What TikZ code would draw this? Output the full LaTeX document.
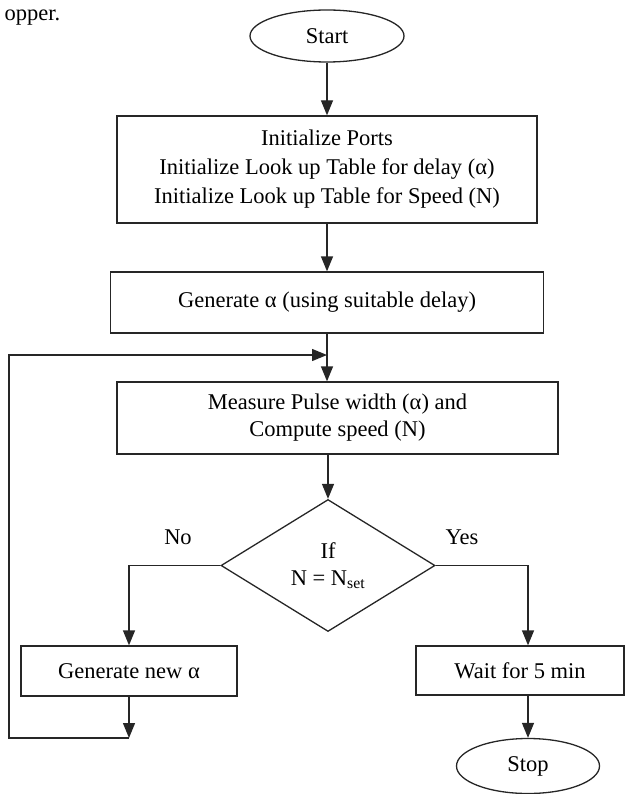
\documentclass[tikz,border=0pt]{standalone}
\usepackage{fontspec}
\setmainfont{Liberation Serif}
\usetikzlibrary{arrows.meta,shapes.geometric}

\begin{document}
\begin{tikzpicture}[x=1pt, y=-1pt, line width=1.3pt, draw=black!85,
    >={Triangle[length=15pt,width=12pt]},
    every node/.style={font=\fontsize{22.5}{27}\selectfont, inner sep=0pt},
    terminal/.style={draw, ellipse},
    process/.style={draw, rectangle, align=center},
    decision/.style={draw, diamond, aspect=1.6, align=center}]
  % page
  \clip (0,0) rectangle (625,794);
  \node[anchor=base west] (prev) at (4,21) {opper.};

  % start
  \node[terminal, minimum width=154pt, minimum height=52pt] (start) at (327,36) {Start};

  % boxes
  \node[process, minimum width=420pt, minimum height=107pt] (init) at (327,169.5)
    {Initialize Ports\\[2pt] Initialize Look up Table for delay (α)\\[2pt] Initialize Look up Table for Speed (N)};
  \node[process, minimum width=433pt, minimum height=61pt] (gen) at (327,302.5)
    {Generate α (using suitable delay)};
  \node[process, minimum width=441pt, minimum height=72pt] (measure) at (337.5,418)
    {Measure Pulse width (α) and\\Compute speed (N)};

  % decision
  \node[decision, minimum width=214pt, minimum height=132pt] (check) at (328,565.5)
    {If\\N = N\textsubscript{set}};
  \node (no) at (178,537) {No};
  \node (yes) at (462,537) {Yes};

  % branches
  \node[process, minimum width=216pt, minimum height=50pt] (newalpha) at (129,671) {Generate new α};
  \node[process, minimum width=208pt, minimum height=49pt] (wait) at (520,670.5) {Wait for 5 min};
  \node[terminal, minimum width=143pt, minimum height=55pt] (stop) at (528,766) {Stop};

  % loop back
  \coordinate (merge) at (327,355);
  \coordinate (back) at (129,738);
  \coordinate (corner) at (9,355);

  % arrows
  \draw[->] (start) -- (init);
  \draw[->] (init) -- (init.south |- gen.north);
  \draw[->] (gen.south) -- (gen.south |- measure.north);
  \draw[->] (check.north |- measure.south) -- (check);
  \draw[->] (check.west) -| (newalpha);
  \draw[->] (check.east) -| (stop |- wait.north);
  \draw[->] (stop |- wait.south) -- (stop);
  \draw[->] (newalpha) -- (back);
  \draw[->] (back) -| (corner) -- (merge);
\end{tikzpicture}
\end{document}
